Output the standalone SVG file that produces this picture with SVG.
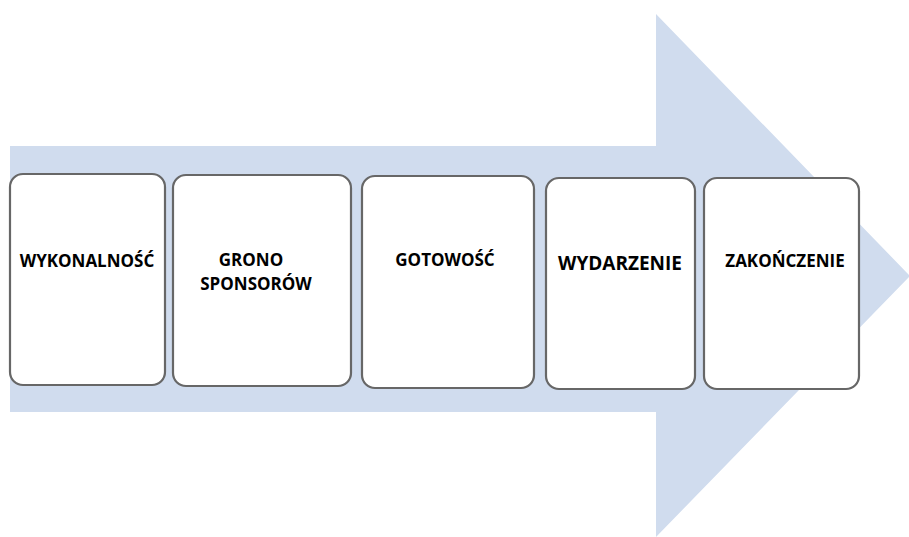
<svg xmlns="http://www.w3.org/2000/svg" width="909" height="537" viewBox="0 0 909 537">
  <style>
    .stage { fill: #ffffff; stroke: #676767; stroke-width: 2.2; }
    .label { font-family: "Open Sans", "Liberation Sans", sans-serif; font-weight: bold; font-size: 17px; fill: #000000; text-anchor: middle; }
    .label.big { font-size: 19px; }
  </style>
  <rect width="909" height="537" fill="#ffffff"/>
  <!-- background process arrow -->
  <g id="arrow">
    <polygon points="10,146 656,146 656,14 910,276 656,537 656,412 10,412" fill="#d0dcee"/>
  </g>
  <g id="stage-1">
    <rect class="stage" x="10" y="174" width="155" height="211" rx="13"/>
    <text class="label" x="87" y="267">WYKONALNOŚĆ</text>
  </g>
  <g id="stage-2">
    <rect class="stage" x="173" y="175" width="178" height="211" rx="13"/>
    <text class="label" x="251" y="266">GRONO</text>
    <text class="label" x="256" y="290">SPONSORÓW</text>
  </g>
  <g id="stage-3">
    <rect class="stage" x="362" y="176" width="172" height="212" rx="13"/>
    <text class="label" x="445" y="266">GOTOWOŚĆ</text>
  </g>
  <g id="stage-4">
    <rect class="stage" x="546" y="178" width="149" height="211" rx="13"/>
    <text class="label big" x="620" y="270">WYDARZENIE</text>
  </g>
  <g id="stage-5">
    <rect class="stage" x="704" y="178" width="155" height="211" rx="13"/>
    <text class="label" x="785" y="267">ZAKOŃCZENIE</text>
  </g>
  <g id="connectors"/>
</svg>
